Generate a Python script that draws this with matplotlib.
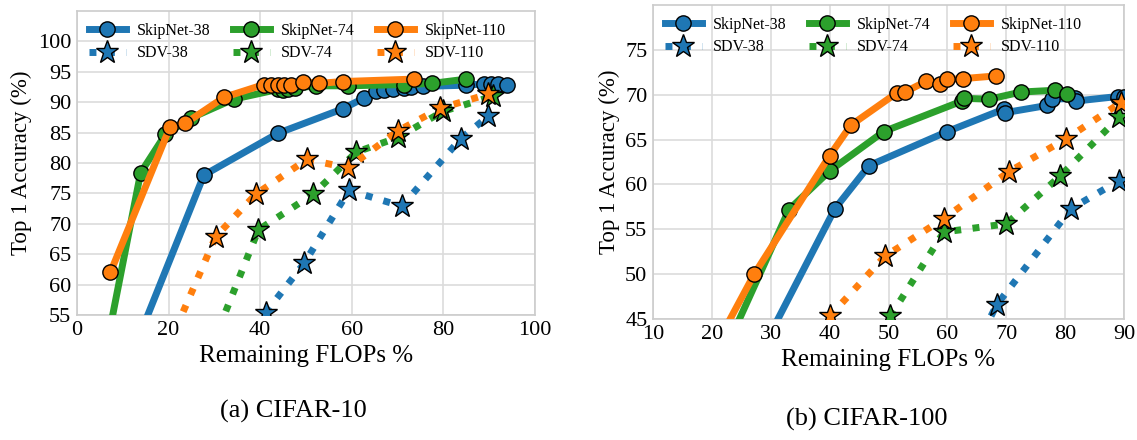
import matplotlib
matplotlib.use("Agg")
import matplotlib.pyplot as plt

plt.rcParams["font.family"] = "serif"
plt.rcParams["font.serif"] = ["Liberation Serif", "DejaVu Serif"]

blue, green, orange = "#1f77b4", "#2ca02c", "#ff7f0e"

# ---------------- CIFAR-10 ----------------
c10_skip38_x = [12.0, 27.7, 43.9, 58.0, 62.7, 65.4, 67.0, 69.0, 71.5, 73.0, 75.5, 85.0, 88.9, 90.5, 92.0, 94.0]
c10_skip38_y = [48.5, 78.0, 84.9, 88.9, 90.7, 91.8, 92.0, 92.2, 92.4, 92.5, 92.6, 92.8, 93.0, 93.0, 93.0, 92.9]
c10_skip74_x = [6.0, 13.9, 19.3, 24.9, 34.2, 43.9, 45.0, 46.0, 47.5, 52.1, 59.2, 71.3, 77.6, 85.0]
c10_skip74_y = [48.1, 78.4, 84.7, 87.4, 90.5, 92.1, 92.0, 92.1, 92.3, 92.7, 92.7, 92.9, 93.1, 93.8]
c10_skip110_x = [7.3, 20.3, 23.6, 32.1, 40.8, 42.4, 43.8, 45.1, 46.7, 49.4, 52.9, 58.0, 73.5]
c10_skip110_y = [62.0, 85.9, 86.5, 90.8, 92.9, 92.9, 92.9, 92.9, 92.9, 93.4, 93.1, 93.4, 93.8]
c10_sdv38_x = [41.2, 49.6, 59.4, 70.9, 83.8, 89.8]
c10_sdv38_y = [55.4, 63.5, 75.5, 72.9, 84.0, 87.7]
c10_sdv74_x = [29.5, 39.6, 51.6, 61.0, 70.1, 79.9, 90.9]
c10_sdv74_y = [50.0, 69.0, 74.9, 81.8, 84.2, 88.5, 91.0]
c10_sdv110_x = [20.0, 30.3, 39.1, 50.2, 59.2, 70.1, 79.3, 89.7]
c10_sdv110_y = [50.0, 67.9, 74.9, 80.6, 79.2, 85.3, 89.0, 91.3]

# ---------------- CIFAR-100 ----------------
c100_skip38_x = [28.0, 40.9, 46.7, 60.0, 69.6, 69.8, 76.9, 77.8, 81.6, 81.9, 88.9, 90.0]
c100_skip38_y = [40.9, 57.3, 62.1, 65.9, 68.4, 68.0, 68.8, 69.5, 69.6, 69.3, 69.8, 69.8]
c100_skip74_x = [20.0, 33.1, 40.0, 49.2, 62.5, 62.8, 67.1, 72.5, 78.3, 80.3]
c100_skip74_y = [38.2, 57.2, 61.5, 65.9, 69.3, 69.6, 69.5, 70.3, 70.5, 70.1]
c100_skip110_x = [20.0, 27.2, 40.0, 43.6, 51.4, 52.8, 56.4, 58.75, 60.0, 62.7, 68.3]
c100_skip110_y = [41.2, 50.0, 63.2, 66.6, 70.2, 70.3, 71.5, 71.2, 71.7, 71.8, 72.1]
c100_sdv38_x = [66.0, 68.4, 81.0, 89.1]
c100_sdv38_y = [43.5, 46.6, 57.3, 60.4]
c100_sdv74_x = [50.3, 59.4, 70.0, 79.1, 89.2]
c100_sdv74_y = [45.3, 54.7, 55.6, 60.9, 67.5]
c100_sdv110_x = [40.0, 49.4, 59.4, 70.4, 80.2, 89.4]
c100_sdv110_y = [45.3, 52.0, 56.2, 61.4, 65.1, 69.1]

labels = ["SkipNet-38", "SkipNet-74", "SkipNet-110", "SDV-38", "SDV-74", "SDV-110"]
colors = [blue, green, orange]

fig = plt.figure(figsize=(11.37, 4.4), dpi=100)
ax1 = fig.add_axes([0.0677, 0.284, 0.4028, 0.691])
ax2 = fig.add_axes([0.5743, 0.275, 0.4143, 0.7136])


def draw(ax, skips, sdvs):
    handles = {}
    for i, (xs, ys) in enumerate(skips):
        h, = ax.plot(xs, ys, "-o", color=colors[i], lw=5, ms=11,
                     mec="black", mew=1.0, label=labels[i], zorder=3)
        handles[labels[i]] = h
    for i, (xs, ys) in enumerate(sdvs):
        h, = ax.plot(xs, ys, ":*", color=colors[i], lw=5, ms=17,
                     mec="black", mew=1.0, label=labels[i + 3], zorder=3)
        handles[labels[i + 3]] = h
    order = ["SkipNet-38", "SDV-38", "SkipNet-74", "SDV-74", "SkipNet-110", "SDV-110"]
    ax.legend([handles[k] for k in order], order, ncol=3, loc="upper left",
              frameon=False, fontsize=11.5, handlelength=2.3, columnspacing=1.4,
              labelspacing=0.4, borderaxespad=0.35, handletextpad=0.7)
    ax.grid(True, color="#dcdcdc", lw=1.2)
    ax.set_axisbelow(True)
    for s in ax.spines.values():
        s.set_color("#cccccc")
        s.set_linewidth(1.2)
    ax.tick_params(length=0, labelsize=16, pad=4)
    ax.set_xlabel("Remaining FLOPs %", fontsize=18)
    ax.set_ylabel("Top 1 Accuracy (%)", fontsize=16.5)


draw(ax1,
     [(c10_skip38_x, c10_skip38_y), (c10_skip74_x, c10_skip74_y), (c10_skip110_x, c10_skip110_y)],
     [(c10_sdv38_x, c10_sdv38_y), (c10_sdv74_x, c10_sdv74_y), (c10_sdv110_x, c10_sdv110_y)])
ax1.set_xlim(0, 100)
ax1.set_ylim(55, 105)
ax1.set_xticks(range(0, 101, 20))
ax1.set_yticks(range(55, 101, 5))

draw(ax2,
     [(c100_skip38_x, c100_skip38_y), (c100_skip74_x, c100_skip74_y), (c100_skip110_x, c100_skip110_y)],
     [(c100_sdv38_x, c100_sdv38_y), (c100_sdv74_x, c100_sdv74_y), (c100_sdv110_x, c100_sdv110_y)])
ax2.set_xlim(10, 90)
ax2.set_ylim(45, 80)
ax2.set_xticks(range(10, 91, 10))
ax2.set_yticks(range(45, 76, 5))

fig.text(0.258, 0.05, "(a) CIFAR-10", ha="center", fontsize=19)
fig.text(0.762, 0.032, "(b) CIFAR-100", ha="center", fontsize=19)

fig.savefig("out.png", dpi=100)
